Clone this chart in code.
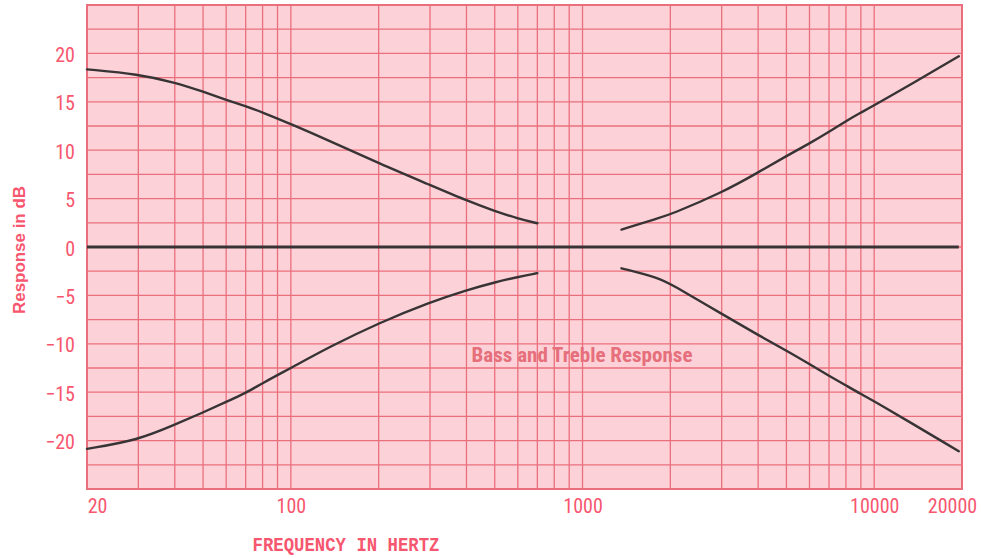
<!DOCTYPE html>
<html>
<head>
<meta charset="utf-8">
<script src="https://cdn.jsdelivr.net/npm/d3@7"></script>
<style>
  body { margin: 0; background: #fff; }
  svg { display: block; }
</style>
</head>
<body>
<div class="chart-section"></div>
<script>
const width = 981,
  height = 558;
const marginLeft = 87,
  marginRight = 19,
  marginTop = 5,
  marginBottom = 69;

// frequency points (Hz) and response (dB)
const bassFreq = [20, 30, 40, 50, 60, 70, 80, 100, 136, 200, 300, 400, 500, 600, 700];
const bassBoost = [18.35, 17.85, 17.0, 16.05, 15.2, 14.55, 13.9, 12.7, 10.95, 8.65, 6.4, 4.8, 3.7, 2.95, 2.45];
const bassCut = [-20.85, -19.95, -18.35, -17.1, -16.0, -15.1, -14.05, -12.5, -10.3, -7.85, -5.7, -4.45, -3.65, -3.1, -2.7];

const trebleFreq = [1360, 1830, 2000, 3000, 4000, 5000, 6000, 7000, 8000, 9000, 10000, 19500];
const trebleBoost = [1.8, 3.0, 3.35, 5.6, 7.7, 9.4, 10.7, 11.9, 13.0, 13.9, 14.6, 19.7];
const trebleCut = [-2.2, -3.2, -3.8, -6.9, -9.1, -10.7, -12.1, -13.3, -14.3, -15.2, -15.9, -21.1];

const flatFreq = [20, 19500];
const flatResp = [0, 0];

const xTicks = [20, 100, 1000, 10000, 20000];
const yTicks = [20, 15, 10, 5, 0, -5, -10, -15, -20];

const pink = "#fcd2d8";
const gridColor = "#ea6f7c";
const labelColor = "#f7566f";
const curveColor = "#383436";

const svg = d3
  .select(".chart-section")
  .append("svg")
  .attr("width", width)
  .attr("height", height);

const xScale = d3
  .scaleLog()
  .domain([20, 20000])
  .range([marginLeft, width - marginRight]);

const yScale = d3
  .scaleLinear()
  .domain([-25, 25])
  .range([height - marginBottom, marginTop]);

// paper background
svg
  .append("rect")
  .attr("x", xScale(20))
  .attr("y", yScale(25))
  .attr("width", xScale(20000) - xScale(20))
  .attr("height", yScale(-25) - yScale(25))
  .attr("fill", pink);

// grid: log minor lines and every 2.5 dB
const grid = svg.append("g").attr("stroke", gridColor).attr("stroke-width", 1.3);
grid
  .selectAll("line.v")
  .data(xScale.ticks())
  .enter()
  .append("line")
  .attr("class", "v")
  .attr("x1", (d) => xScale(d))
  .attr("x2", (d) => xScale(d))
  .attr("y1", yScale(25))
  .attr("y2", yScale(-25));
grid
  .selectAll("line.h")
  .data(d3.range(-25, 25.1, 2.5))
  .enter()
  .append("line")
  .attr("class", "h")
  .attr("x1", xScale(20))
  .attr("x2", xScale(20000))
  .attr("y1", (d) => yScale(d))
  .attr("y2", (d) => yScale(d));

// frame
svg
  .append("rect")
  .attr("x", xScale(20))
  .attr("y", yScale(25))
  .attr("width", xScale(20000) - xScale(20))
  .attr("height", yScale(-25) - yScale(25))
  .attr("fill", "none")
  .attr("stroke", gridColor)
  .attr("stroke-width", 2);

// curves (basis keeps the hand-drawn look smooth)
const line = d3
  .line()
  .x((d) => xScale(d[0]))
  .y((d) => yScale(d[1]))
  .curve(d3.curveBasis);

const series = [
  [bassFreq, bassBoost],
  [bassFreq, bassCut],
  [trebleFreq, trebleBoost],
  [trebleFreq, trebleCut],
];
svg
  .selectAll("path.curve")
  .data(series)
  .enter()
  .append("path")
  .attr("class", "curve")
  .attr("d", (s) => line(d3.zip(s[0], s[1])))
  .attr("fill", "none")
  .attr("stroke", curveColor)
  .attr("stroke-width", 2.4)
  .attr("stroke-linecap", "round");

svg
  .append("path")
  .attr("d", line(d3.zip(flatFreq, flatResp)))
  .attr("fill", "none")
  .attr("stroke", curveColor)
  .attr("stroke-width", 3);

// axes
const numFont = "'Liberation Sans Narrow', 'Roboto Condensed', 'DejaVu Sans Condensed', 'Liberation Sans', sans-serif";

const yAxis = d3
  .axisLeft(yScale)
  .tickValues(yTicks)
  .tickSize(0)
  .tickPadding(12)
  .tickFormat((d) => (d < 0 ? "\u2212" + Math.abs(d) : d));
const yG = svg.append("g").attr("transform", `translate(${marginLeft},0)`).call(yAxis);
yG.select(".domain").remove();
yG.selectAll("text")
  .attr("fill", labelColor)
  .attr("font-family", numFont)
  .attr("font-size", 20)
  .attr("dy", "0.4em");

const xAxis = d3
  .axisBottom(xScale)
  .tickValues(xTicks)
  .tickSize(0)
  .tickPadding(10)
  .tickFormat(d3.format("d"));
const xG = svg
  .append("g")
  .attr("transform", `translate(0,${height - marginBottom})`)
  .call(xAxis);
xG.select(".domain").remove();
xG.selectAll("text")
  .attr("fill", labelColor)
  .attr("font-family", numFont)
  .attr("font-size", 20)
  .attr("dx", (d) => (d === 20 ? 10 : d === 20000 ? -10 : 0));

// titles
svg
  .append("text")
  .text("Response in dB")
  .attr("transform", "translate(25,250) rotate(-90)")
  .attr("text-anchor", "middle")
  .attr("font-family", "'Liberation Sans', Arial, sans-serif")
  .attr("font-weight", "bold")
  .attr("font-size", 17)
  .attr("textLength", 128)
  .attr("lengthAdjust", "spacingAndGlyphs")
  .attr("fill", labelColor);

svg
  .append("text")
  .text("FREQUENCY IN HERTZ")
  .attr("x", 346)
  .attr("y", 551)
  .attr("text-anchor", "middle")
  .attr("font-family", "'Liberation Mono', 'Courier New', monospace")
  .attr("font-weight", "bold")
  .attr("font-size", 20)
  .attr("textLength", 187)
  .attr("lengthAdjust", "spacingAndGlyphs")
  .attr("fill", labelColor);

svg
  .append("text")
  .text("Bass and Treble Response")
  .attr("x", 582)
  .attr("y", 362)
  .attr("text-anchor", "middle")
  .attr("font-family", numFont)
  .attr("font-weight", "bold")
  .attr("font-size", 21)
  .attr("textLength", 221)
  .attr("lengthAdjust", "spacingAndGlyphs")
  .attr("fill", "#e66f7b");
</script>
</body>
</html>
